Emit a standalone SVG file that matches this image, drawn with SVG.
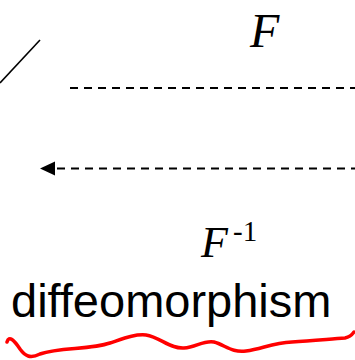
<svg xmlns="http://www.w3.org/2000/svg" width="355" height="360" viewBox="0 0 355 360">
  <style>
    .math { font-family: "Liberation Serif", "Times New Roman", serif; font-style: italic; fill: #000; }
    .sup { font-family: "Liberation Serif", "Times New Roman", serif; fill: #000; }
    .word { font-family: "Liberation Sans", Arial, sans-serif; fill: #000; }
    .dash { stroke: #000; stroke-width: 2; stroke-dasharray: 8 6; fill: none; }
    .solid { stroke: #000; stroke-width: 1.6; fill: none; }
    .head { fill: #000; stroke: none; }
    .wave { stroke: #ff0000; stroke-width: 3.5; fill: none; stroke-linecap: round; stroke-linejoin: round; }
  </style>
  <rect width="355" height="360" fill="#ffffff"/>
  <g id="connectors">
    <line class="solid" x1="0" y1="83" x2="40" y2="40"/>
    <line class="dash" x1="70" y1="88" x2="355" y2="88"/>
    <line class="dash" x1="57" y1="168.5" x2="355" y2="168.5"/>
    <polygon class="head" points="40,168.5 55,161.5 55,175.5"/>
  </g>
  <g id="label-F">
    <text class="math" x="250" y="47" font-size="48">F</text>
  </g>
  <g id="label-Finv">
    <text class="math" x="201" y="257" font-size="44">F</text>
    <text class="sup" x="233" y="241" font-size="29">-1</text>
  </g>
  <g id="label-diffeomorphism">
    <text class="word" x="11" y="317" font-size="47">diffeomorphism</text>
    <path class="wave" d="M7,342 C9,335 14,340 20,349 C25,356 30,359 40,354 C60,347 90,350 110,343 C125,338 135,334 146,335 C160,337 170,349 184,348 C196,347 204,340 214,342 C225,345 232,353 246,351 C262,349 272,343 292,342 C312,341 330,339 345,338 C350,337 352,335 354,332"/>
  </g>
</svg>
